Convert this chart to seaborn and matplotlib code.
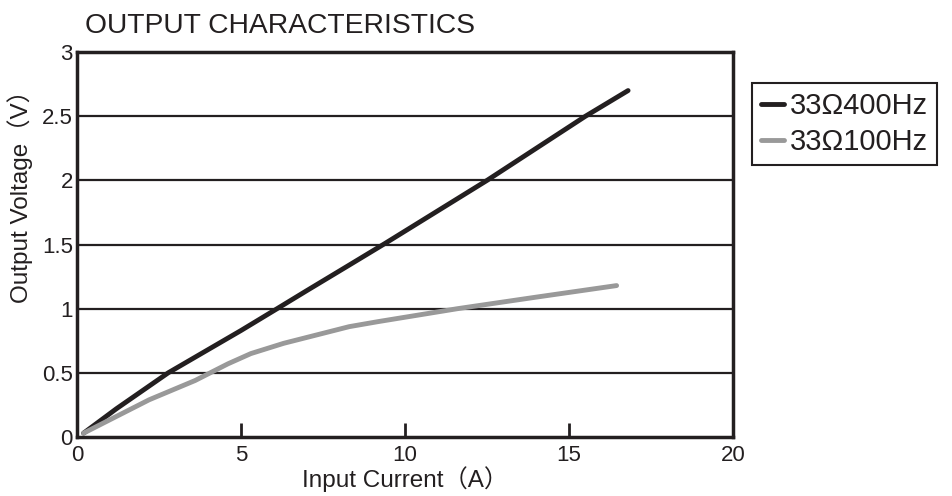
import matplotlib
matplotlib.use("Agg")
import matplotlib.pyplot as plt
from matplotlib.lines import Line2D
import seaborn as sns
import pandas as pd

series_names = ["33Ω400Hz", "33Ω100Hz"]
x_400 = [0.2, 1.2, 2.78, 5.0, 6.1, 7.0, 8.3, 9.4, 12.5, 15.5, 16.8]
y_400 = [0.03, 0.22, 0.50, 0.83, 1.00, 1.14, 1.34, 1.51, 2.00, 2.50, 2.70]
x_100 = [0.2, 2.2, 3.6, 4.6, 5.3, 6.3, 8.3, 9.2, 11.6, 14.0, 16.45]
y_100 = [0.03, 0.29, 0.44, 0.57, 0.65, 0.73, 0.86, 0.90, 1.00, 1.09, 1.18]
x_ticks = [0, 5, 10, 15, 20]
y_ticks = [0, 0.5, 1, 1.5, 2, 2.5, 3]
y_ticklabels = ["0", "0.5", "1", "1.5", "2", "2.5", "3"]
colors = ["#231f20", "#999999"]
ink = "#231f20"

df = pd.concat([
    pd.DataFrame({"x": x_400, "y": y_400, "s": series_names[0]}),
    pd.DataFrame({"x": x_100, "y": y_100, "s": series_names[1]}),
])

sns.set_theme(style="white")
plt.rcParams['font.family'] = ['Liberation Sans', 'Noto Sans CJK JP', 'DejaVu Sans']

fig = plt.figure(figsize=(9.52, 4.96), dpi=100)
ax = fig.add_axes([0.0809, 0.119, 0.6891, 0.776])

for yv in y_ticks[1:-1]:
    ax.axhline(yv, color=ink, lw=1.6, zorder=1)

sns.lineplot(data=df, x="x", y="y", hue="s", palette=colors, sort=False,
             linewidth=3.5, ax=ax, legend=False, zorder=3)
for ln in ax.get_lines()[-2:]:
    ln.set_solid_joinstyle("round")

ax.set_xlim(0, 20)
ax.set_ylim(0, 3)
ax.set_xticks(x_ticks)
ax.set_yticks(y_ticks)
ax.set_yticklabels(y_ticklabels)
ax.tick_params(axis="x", direction="in", length=10, width=2, color=ink,
               labelsize=16, pad=6, labelcolor=ink, bottom=True)
ax.tick_params(axis="y", length=0, labelsize=16, pad=3, labelcolor=ink)
for sp in ax.spines.values():
    sp.set_visible(True)
    sp.set_color(ink)
    sp.set_linewidth(2.5)

ax.set_xlabel("Input Current（A）", fontsize=17.5, color=ink, labelpad=0)
ax.set_ylabel("Output Voltage（V）", fontsize=17.5, color=ink)
ax.yaxis.set_label_coords(-0.067, 0.64)
fig.text(85 / 952, 1 - 33 / 496, "OUTPUT CHARACTERISTICS", fontsize=20.3,
         color=ink, ha="left", va="baseline")

handles = [Line2D([0], [0], color=c, lw=3.5) for c in colors]
leg = fig.legend(handles, series_names, loc="upper left",
                 bbox_to_anchor=(752 / 952, 1 - 83 / 496), fontsize=21,
                 handlelength=0.8, handletextpad=0.2, borderpad=0.3,
                 labelspacing=0.3, fancybox=False, framealpha=1,
                 borderaxespad=0)
leg.get_frame().set_edgecolor(ink)
leg.get_frame().set_linewidth(1.5)
for t in leg.get_texts():
    t.set_color(ink)

fig.savefig("out.png", dpi=100)
